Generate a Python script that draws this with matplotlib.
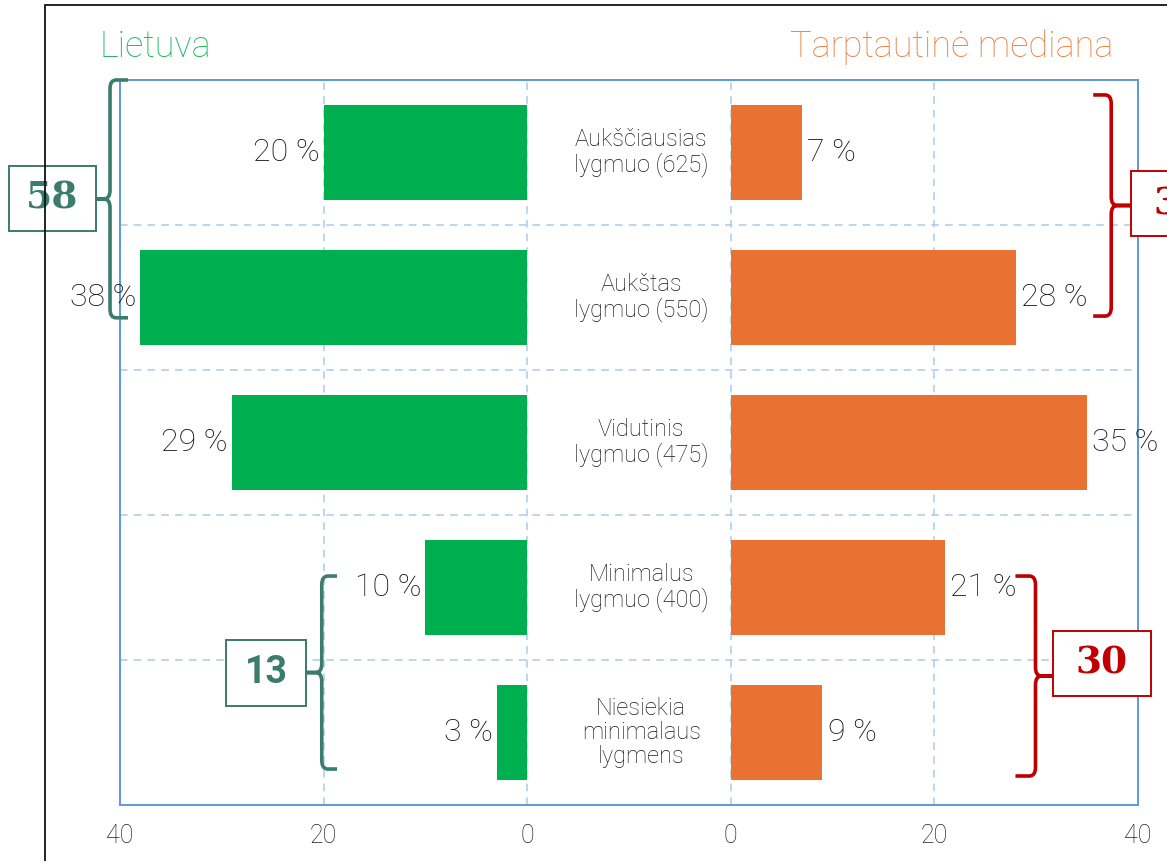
import matplotlib
matplotlib.use("Agg")
import matplotlib.pyplot as plt
from matplotlib.patches import Rectangle, PathPatch
from matplotlib.path import Path

levels = ["Aukščiausias\nlygmuo (625)", "Aukštas\nlygmuo (550)", "Vidutinis\nlygmuo (475)",
          "Minimalus\nlygmuo (400)", "Niesiekia\nminimalaus\nlygmens"]
lietuva = [20, 38, 29, 10, 3]
mediana = [7, 28, 35, 21, 9]
tick_vals = [40, 20, 0, 0, 20, 40]

GREEN = "#00B050"
ORANGE = "#E97132"
TEAL = "#3B7C6A"
RED = "#C00000"
GAP = 10  # half of the empty middle band, in axis units

plt.rcParams["font.family"] = ["Roboto", "DejaVu Sans"]
plt.rcParams["font.weight"] = "light"

fig = plt.figure(figsize=(11.67, 8.61), dpi=100)
ax = fig.add_axes([120 / 1167, 1 - 805 / 861, 1018 / 1167, 725 / 861])

y = list(range(len(levels)))
ax.barh(y, [-v for v in lietuva], left=-GAP, height=0.66, color=GREEN, zorder=3)
ax.barh(y, mediana, left=GAP, height=0.66, color=ORANGE, zorder=3)

for i, (lv, mv) in enumerate(zip(lietuva, mediana)):
    ax.text(-GAP - lv - 0.4, i, f"{lv} %", ha="right", va="center", fontsize=23, color="#111111", zorder=4)
    ax.text(GAP + mv + 0.5, i, f"{mv} %", ha="left", va="center", fontsize=23, color="#111111", zorder=4)
    ax.text(1.2, i, levels[i], ha="center", va="center", fontsize=17, color="#1A1A1A", linespacing=1.05)

ax.set_xlim(-GAP - 40, GAP + 40)
ax.set_ylim(len(levels) - 0.5, -0.5)
xt = [-GAP - 40, -GAP - 20, -GAP, GAP, GAP + 20, GAP + 40]
ax.set_xticks(xt)
ax.set_xticklabels([str(v) for v in tick_vals])
ax.set_yticks([])
ax.set_yticks([i + 0.5 for i in range(len(levels) - 1)], minor=True)
ax.tick_params(axis="x", length=0, pad=14, labelsize=18, labelcolor="#222222")
ax.tick_params(axis="y", which="both", length=0)
ax.grid(True, axis="y", which="minor", linestyle=(0, (5, 4)), color="#A9CBEE", linewidth=1.1, zorder=0)
for xv in [-GAP - 20, -GAP, GAP, GAP + 20]:
    ax.axvline(xv, linestyle=(0, (5, 4)), color="#A9CBEE", linewidth=1.1, zorder=0)
for s in ax.spines.values():
    s.set_edgecolor("#5B9BD5")
    s.set_linewidth(1.4)

ax.text(-52, -0.73, "Lietuva", ha="left", va="center", fontsize=26, color="#1FB85E")
ax.text(47.6, -0.73, "Tarptautinė mediana", ha="right", va="center", fontsize=26, color="#EE8446")


def brace(xs, y0, y1, d, tip, pt, color):
    rx, ry = 0.6, 0.06
    ym = (y0 + y1) / 2
    verts = [(xs + d * tip, y0), (xs + d * rx, y0), (xs, y0), (xs, y0 + ry),
             (xs, ym - ry), (xs, ym), (xs - d * rx, ym), (xs - d * pt, ym),
             (xs - d * rx, ym), (xs, ym), (xs, ym + ry),
             (xs, y1 - ry), (xs, y1), (xs + d * rx, y1), (xs + d * tip, y1)]
    codes = [Path.MOVETO, Path.LINETO, Path.CURVE3, Path.CURVE3,
             Path.LINETO, Path.CURVE3, Path.CURVE3, Path.LINETO,
             Path.LINETO, Path.CURVE3, Path.CURVE3,
             Path.LINETO, Path.CURVE3, Path.CURVE3, Path.LINETO]
    ax.add_patch(PathPatch(Path(verts, codes), fill=False, edgecolor=color, linewidth=2.6,
                           capstyle="butt", joinstyle="round", clip_on=False, zorder=5))


def box(x0, x1, y0, y1, text, color, family):
    ax.add_patch(Rectangle((x0, y0), x1 - x0, y1 - y0, fill=True, facecolor="white",
                           edgecolor=color, linewidth=1.4, clip_on=False, zorder=5))
    ax.text((x0 + x1) / 2, (y0 + y1) / 2, text, ha="center", va="center", fontsize=27,
            fontweight="bold", family=family, color=color, zorder=6, clip_on=False)


# grouped totals
top_lt = lietuva[0] + lietuva[1]
low_lt = lietuva[3] + lietuva[4]
top_md = mediana[0] + mediana[1]
low_md = mediana[3] + mediana[4]

brace(-50.98, -0.5, 1.14, 1, 1.77, 1.3, TEAL)
box(-60.91, -52.36, 0.093, 0.541, str(top_lt), TEAL, "DejaVu Serif")

brace(-30.18, 2.921, 4.252, 1, 1.5, 1.57, TEAL)
box(-39.58, -31.72, 3.362, 3.817, str(low_lt), TEAL, "Roboto")

brace(47.37, -0.397, 1.128, -1, 1.77, 2.06, RED)
box(49.36, 58.9, 0.128, 0.576, str(top_md), RED, "DejaVu Serif")

brace(39.93, 2.921, 4.30, -1, 1.97, 1.77, RED)
box(41.69, 51.23, 3.30, 3.748, str(low_md), RED, "DejaVu Serif")

fig.add_artist(Rectangle((45 / 1167, -0.1), 1.2, 1.1 - 5 / 861, transform=fig.transFigure,
                         fill=False, edgecolor="#111111", linewidth=1.3))

fig.savefig("out.png", dpi=100, facecolor="white")
